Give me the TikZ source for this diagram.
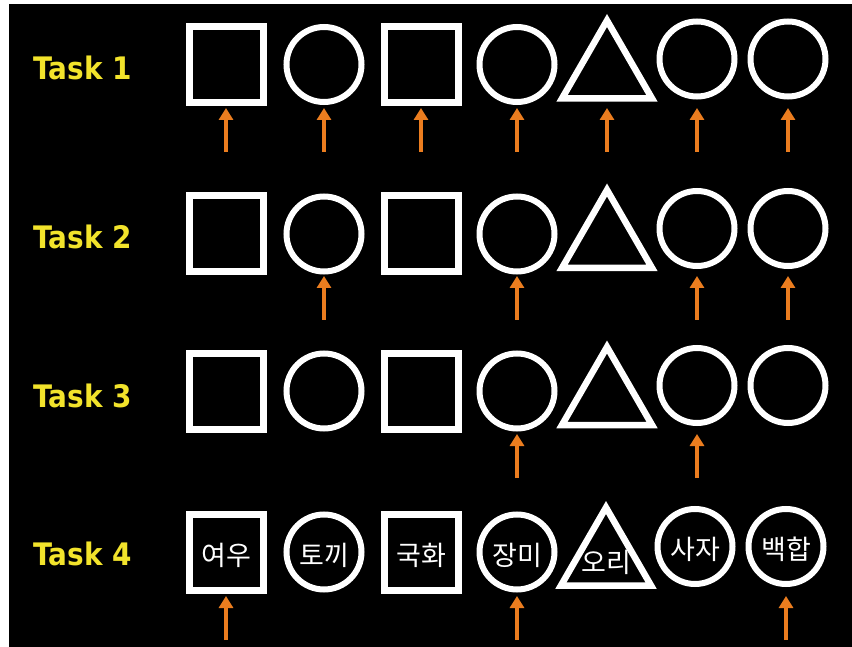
\documentclass[tikz,border=0pt]{standalone}
\usepackage{fontspec}
\usepackage{xcolor}
\usetikzlibrary{arrows.meta,shapes.geometric,calc}
\newfontfamily\tasklabel{DejaVu Sans}[FakeStretch=0.9]
\newfontfamily\kor{Noto Sans CJK KR}
\definecolor{lemon}{HTML}{F2E32B}
\definecolor{amber}{HTML}{EB7D1F}

\begin{document}
\begin{tikzpicture}[x=1pt,y=-1pt,
   fig/.style={draw=white,line width=6pt,inner sep=0pt,outer sep=0pt},
   sq/.style={fig,rectangle,line width=7pt,minimum width=74pt,minimum height=76pt},
   ci/.style={fig,circle,minimum size=75pt},
   tri/.style={fig,regular polygon,regular polygon sides=3,line width=6.5pt,minimum size=104pt},
   word/.style={text=white,yshift=-3pt,font=\kor\fontsize{27}{27}\selectfont},
   lbl/.style={anchor=base west,text=lemon,font=\tasklabel\bfseries\fontsize{31}{31}\selectfont},
   arr/.style={draw=amber,line width=4pt,-{Triangle[length=12pt,width=14pt]}}]
  \useasboundingbox (0,0) rectangle (852,647);
  \fill[white] (0,0) rectangle (852,647);
  \fill[black] (9,4) rectangle (852,647);
  % task labels
  \foreach \r/\y in {1/80,2/249,3/407,4/565}
    \node[lbl] (task\r) at (30,\y) {Task \r};
  % shapes, rows 1-3
  \foreach \r/\y in {1/64.5,2/234,3/391}
    \foreach \c/\x/\dy/\k in {1/226/0/sq,2/324/0/ci,3/421/0/sq,4/517/0/ci,
                              5/607/8/tri,6/697/-5.5/ci,7/788/-5.5/ci}
      \node[\k] (s\r\c) at ({\x},{\y+\dy}) {};
  % row 4 with words
  \node[sq,label={[word]center:여우}]  (s41) at (226,552)   {};
  \node[ci,label={[word]center:토끼}]  (s42) at (324,552)   {};
  \node[sq,label={[word]center:국화}]  (s43) at (421,552)   {};
  \node[ci,label={[word]center:장미}]  (s44) at (517,552)   {};
  \node[tri,label={[word]center:오리}] (s45) at (606,559.5) {};
  \node[ci,label={[word]center:사자}]  (s46) at (695,546.5) {};
  \node[ci,label={[word]center:백합}]  (s47) at (786,546.5) {};
  % arrows, tips level in each row
  \foreach \r/\ty/\cols in {1/108/{1,2,3,4,5,6,7},2/276/{2,4,6,7},3/434/{4,6},4/596/{1,4,7}}
    \foreach \c in \cols {
      \coordinate (t\r\c) at (s\r\c |- 0,\ty+44);
      \draw[arr] (t\r\c) -- (s\r\c |- 0,\ty);
    }
\end{tikzpicture}
\end{document}
